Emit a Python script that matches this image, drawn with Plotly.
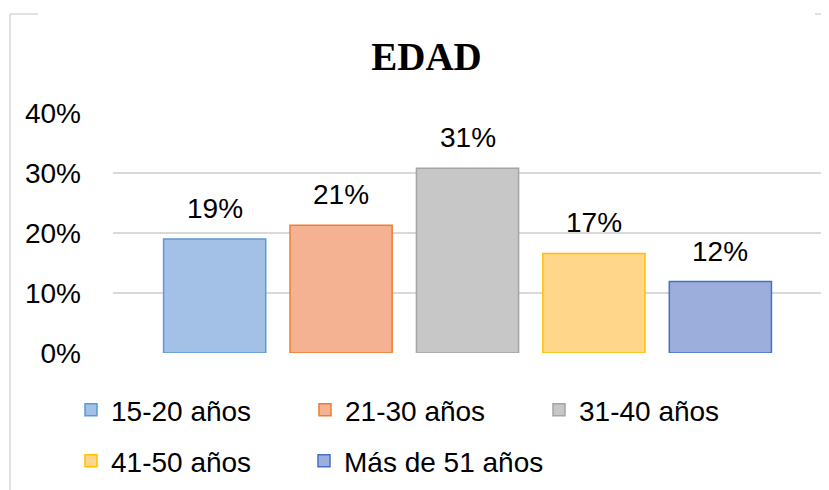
import plotly.graph_objects as go

categories = ["15-20 años", "21-30 años", "31-40 años", "41-50 años", "Más de 51 años"]
values = [0.19, 0.213, 0.308, 0.166, 0.119]
labels = ["19%", "21%", "31%", "17%", "12%"]
fill_colors = ["#A3C0E6", "#F4B293", "#C7C7C7", "#FFD68A", "#9BAEDC"]
line_colors = ["#5B9BD5", "#ED7D31", "#A5A5A5", "#FFC000", "#4472C4"]
y_ticks = [0, 0.1, 0.2, 0.3, 0.4]
y_tick_text = ["0%", "10%", "20%", "30%", "40%"]
title_text = "EDAD"

TITLE_FONT = "Liberation Serif"
FONT = "Liberation Sans"
FS = 28
OFF = 8  # page body margin compensation
W, H = 829 - OFF, 490 - OFF
L, R, T, B = 113 - OFF, 16 - OFF, 113 - OFF, 137

def px_x(p):
    return (p - OFF - L) / (W - L - R)

def px_y(p):
    return (H - B - (p - OFF)) / (H - T - B)

legend_ids = ["legend", "legend", "legend", "legend2", "legend3"]

fig = go.Figure()
for i, (c, v) in enumerate(zip(categories, values)):
    fig.add_trace(go.Bar(
        x=[c], y=[v], name=c, width=0.808,
        marker=dict(color=fill_colors[i], line=dict(color=line_colors[i], width=1.5)),
        legend=legend_ids[i],
        hoverinfo="skip",
    ))
    fig.add_annotation(x=c, y=v, text=labels[i], showarrow=False, yanchor="bottom",
                       yshift=13, font=dict(family=FONT, size=FS, color="#000000"))

grey = "#D9D9D9"
shapes = [
    dict(type="line", xref="paper", yref="paper", x0=px_x(10), x1=px_x(10), y0=px_y(14), y1=px_y(495),
         line=dict(color=grey, width=1.5)),
    dict(type="line", xref="paper", yref="paper", x0=px_x(10), x1=px_x(38), y0=px_y(14), y1=px_y(14),
         line=dict(color=grey, width=1.5)),
    dict(type="line", xref="paper", yref="paper", x0=px_x(815), x1=px_x(832), y0=px_y(14), y1=px_y(14),
         line=dict(color=grey, width=1.5)),
]

legend_common = dict(orientation="h", font=dict(family=FONT, size=FS, color="#000000"),
                     xanchor="left", yanchor="middle",
                     bgcolor="rgba(0,0,0,0)", itemclick=False, itemdoubleclick=False)

fig.update_layout(
    width=W, height=H,
    margin=dict(l=L, r=R, t=T, b=B, autoexpand=False),
    paper_bgcolor="#FFFFFF", plot_bgcolor="#FFFFFF",
    barmode="overlay",
    showlegend=True,
    title=dict(text=title_text, x=(426.5 - OFF) / W, xanchor="center", xref="container",
               y=1 - (56 - OFF) / H, yanchor="middle", yref="container",
               font=dict(family=TITLE_FONT, size=39, color="#000000", weight="bold")),
    xaxis=dict(type="category", categoryorder="array", categoryarray=categories,
               range=[-0.804, 4.796], showticklabels=False, showgrid=False,
               zeroline=False, showline=False, ticks=""),
    yaxis=dict(range=[0, 0.4], tickvals=y_ticks, ticktext=y_tick_text,
               showgrid=True, gridcolor=grey, gridwidth=1.5, zeroline=False,
               showline=False, ticks="", ticklabelstandoff=31,
               tickfont=dict(family=FONT, size=FS, color="#000000")),
    legend=dict(**legend_common, x=px_x(71), y=px_y(410), entrywidth=189, entrywidthmode="pixels"),
    legend2=dict(**legend_common, x=px_x(71), y=px_y(461)),
    legend3=dict(**legend_common, x=px_x(304), y=px_y(461)),
    shapes=shapes,
)

fig.write_html("out.html")
